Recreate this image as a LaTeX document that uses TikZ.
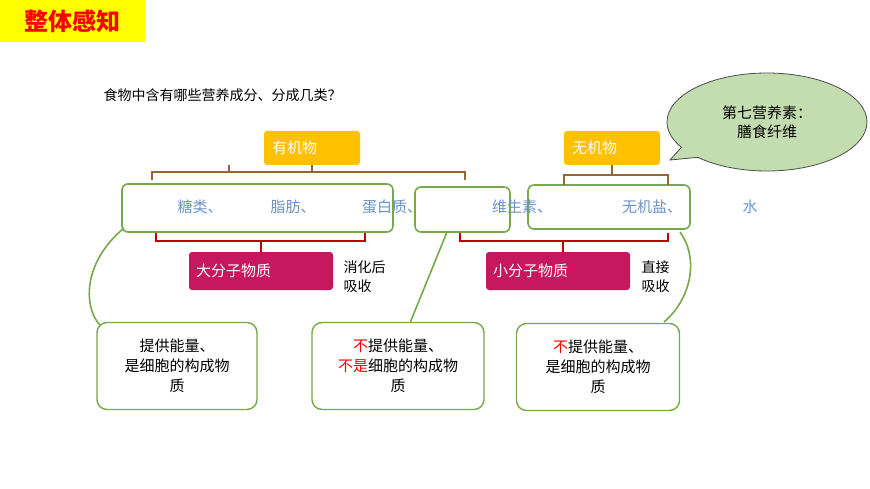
\documentclass[tikz,border=0pt]{standalone}
\usepackage{fontspec}
\setmainfont{Noto Sans CJK SC}
\usetikzlibrary{shapes.callouts}
\definecolor{titley}{HTML}{FFFF00}
\definecolor{orgy}{HTML}{FFC000}
\definecolor{boxg}{HTML}{77A84A}
\definecolor{itemb}{HTML}{6A93C8}
\definecolor{brown}{HTML}{996633}
\definecolor{darkr}{HTML}{C00000}
\definecolor{magen}{HTML}{C7175F}
\definecolor{callg}{HTML}{C4DDB0}
\tikzset{
  catbox/.style={fill=orgy, rounded corners=3pt, text=white, font=\fontsize{15}{18}\selectfont, minimum width=96pt, minimum height=34pt, text width=80pt, align=left},
  grpbox/.style={draw=boxg, line width=1.6pt, rounded corners=6pt},
  item/.style={text=itemb, font=\fontsize{15}{18}\selectfont},
  molbox/.style={fill=magen, rounded corners=3pt, text=white, font=\fontsize{15}{18}\selectfont, minimum width=144pt, minimum height=38pt, text width=130pt, align=left},
  note/.style={font=\fontsize{14}{19}\selectfont, align=left, anchor=west},
  rolebox/.style={draw=boxg, line width=1.4pt, rounded corners=10pt, fill=white, font=\fontsize{15}{20}\selectfont, align=center, minimum height=87pt},
  brk/.style={line width=1.5pt},
  link/.style={draw=boxg, line width=1.6pt}
}
\begin{document}
\begin{tikzpicture}[x=1pt,y=-1pt]
  \useasboundingbox (0,0) rectangle (870,489);
  \fill[white] (0,0) rectangle (870,489);
  % title
  \node[fill=titley, minimum width=145pt, minimum height=42pt, text=red, font=\fontsize{24}{28}\selectfont\bfseries] (title) at (72.5,21) {整体感知};
  \node[anchor=west, font=\fontsize{14}{18}\selectfont] (quest) at (100,95) {食物中含有哪些营养成分、分成几类？};
  % callout
  \node[ellipse callout, draw=black!70, fill=callg, line width=0.8pt, minimum width=200pt, minimum height=98pt,
        callout absolute pointer={(670,160)}, font=\fontsize{15}{19}\selectfont, align=center] (fiber) at (767,122) {第七营养素：\\膳食纤维};
  % categories
  \node[catbox] (organic) at (312,148) {有机物};
  \node[catbox] (inorganic) at (612,148) {无机物};
  % groups
  \draw[grpbox] (122,184) rectangle (393,232);
  \draw[grpbox] (415,187) rectangle (510,232);
  \draw[grpbox] (528,185) rectangle (690,229);
  \node[item] (sugar) at (200,207) {糖类、};
  \node[item] (fat) at (293,207) {脂肪、};
  \node[item] (protein) at (392,207) {蛋白质、};
  \node[item] (vitamin) at (522,207) {维生素、};
  \node[item] (salt) at (652,207) {无机盐、};
  \node[item] (water) at (750,207) {水};
  % brackets
  \draw[brk, brown] (152,180) -- (152,172) -- (465,172) -- (465,180);
  \draw[brk, brown] (organic.south) -- (312,172) -- cycle;
  \draw[brk, brown] (229,165) -- (229,172);
  \draw[brk, brown] (564,185) -- (564,175) -- (668,175) -- (668,185);
  \draw[brk, brown] (inorganic.south) -- (612,175);
  \draw[brk, darkr] (156,233) -- (156,241) -- (365,241) -- (365,233);
  \draw[brk, darkr] (261,241) -- (261,252);
  \draw[brk, darkr] (460,233) -- (460,241) -- (668,241) -- (668,233);
  \draw[brk, darkr] (563,241) -- (563,252);
  % molecules
  \node[molbox] (big) at (261,271) {大分子物质};
  \node[molbox] (small) at (558,271) {小分子物质};
  \node[note] (digest) at (340,277) {消化后\\吸收};
  \node[note] (direct) at (638,277) {直接\\吸收};
  % roles
  \node[rolebox, minimum width=160pt] (role1) at (177,366) {提供能量、\\是细胞的构成物\\质};
  \node[rolebox, minimum width=172pt] (role2) at (398,366) {\textcolor{red}{不}提供能量、\\\textcolor{red}{不是}细胞的构成物\\质};
  \node[rolebox, minimum width=163pt] (role3) at (598,367) {\textcolor{red}{不}提供能量、\\是细胞的构成物\\质};
  % links
  \coordinate (g1) at (124,228);
  \coordinate (g2) at (447,232);
  \coordinate (g3) at (680,232);
  \draw[link] (g1) .. controls (80,265) and (85,310) .. (100,325);
  \draw[link] (g2) -- (410,323);
  \draw[link] (g3) .. controls (700,260) and (690,300) .. (664,322);
\end{tikzpicture}
\end{document}
